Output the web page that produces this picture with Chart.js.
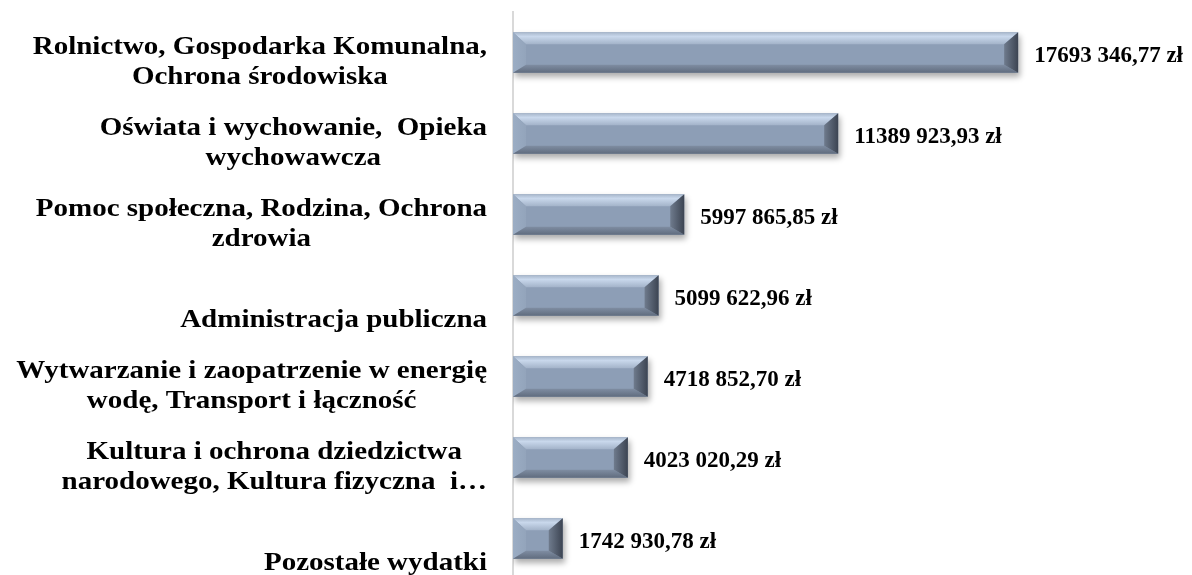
<!DOCTYPE html>
<html>
<head>
<meta charset="utf-8">
<script src="https://cdn.jsdelivr.net/npm/chart.js@4.4.0/dist/chart.umd.min.js"></script>
<style>
html, body { margin: 0; padding: 0; background: #ffffff; overflow: hidden; }
canvas { display: block; }
</style>
</head>
<body>
<canvas id="wydatkiChart" width="1192" height="580"></canvas>
<script>

// categories (multi-line, as in the original labels)
let categories = [
    ["Rolnictwo, Gospodarka Komunalna,", "Ochrona środowiska"],
    ["Oświata i wychowanie,  Opieka", "wychowawcza"],
    ["Pomoc społeczna, Rodzina, Ochrona", "zdrowia"],
    ["", "Administracja publiczna"],
    ["Wytwarzanie i zaopatrzenie w energię", "wodę, Transport i łączność"],
    ["Kultura i ochrona dziedzictwa", "narodowego, Kultura fizyczna  i…"],
    ["", "Pozostałe wydatki"]
];

// expenses in zł
let amounts = [
    17693346.77,
    11389923.93,
    5997865.85,
    5099622.96,
    4718852.70,
    4023020.29,
    1742930.78
];

let axisMin = 0;
let axisMax = 20000000;

let labelFont = "bold 26px 'Liberation Serif', 'Times New Roman', serif";
let labelStretch = 1.115;
let valueFont = "bold 23px 'Liberation Serif', 'Times New Roman', serif";

function formatZl(v){

    let parts = v.toFixed(2).split(".");

    let whole = parts[0];

    return whole.slice(0, -3) + " " + whole.slice(-3) + "," + parts[1] + " zł";
}

// soft drop shadow under the bars
const barShadow = {

    id: "barShadow",

    beforeDatasetDraw(chart){
        let ctx = chart.ctx;
        ctx.save();
        ctx.shadowColor = "rgba(0,0,0,0.33)";
        ctx.shadowBlur = 6;
        ctx.shadowOffsetX = 2;
        ctx.shadowOffsetY = 4;
    },

    afterDatasetDraw(chart){
        chart.ctx.restore();
    }
};

function poly(ctx, pts, fill){
    ctx.beginPath();
    ctx.moveTo(pts[0][0], pts[0][1]);
    for(let i = 1; i < pts.length; i++){
        ctx.lineTo(pts[i][0], pts[i][1]);
    }
    ctx.closePath();
    ctx.fillStyle = fill;
    ctx.fill();
}

// bevelled edges drawn over each bar element
const barBevel = {

    id: "barBevel",

    afterDatasetsDraw(chart){

        let ctx = chart.ctx;
        let meta = chart.getDatasetMeta(0);

        meta.data.forEach(bar => {

            let L = Math.min(bar.base, bar.x);
            let R = Math.max(bar.base, bar.x);
            let T = bar.y - bar.height / 2;
            let B = bar.y + bar.height / 2;

            let bt = 12, bb = 8, bl = 13, br = 14;

            ctx.save();

            let gTop = ctx.createLinearGradient(0, T, 0, T + bt);
            gTop.addColorStop(0, "#a7b6ca");
            gTop.addColorStop(0.35, "#c9d8ec");
            gTop.addColorStop(1, "#a3b3c9");
            poly(ctx, [[L, T], [R, T], [R - br, T + bt], [L + bl, T + bt]], gTop);

            let gLeft = ctx.createLinearGradient(L, 0, L + bl, 0);
            gLeft.addColorStop(0, "#9badc4");
            gLeft.addColorStop(1, "#93a4bb");
            poly(ctx, [[L, T], [L + bl, T + bt], [L + bl, B - bb], [L, B]], gLeft);

            let gBottom = ctx.createLinearGradient(0, B - bb, 0, B);
            gBottom.addColorStop(0, "#7f8da2");
            gBottom.addColorStop(1, "#606c7e");
            poly(ctx, [[L, B], [L + bl, B - bb], [R - br, B - bb], [R, B]], gBottom);

            let gRight = ctx.createLinearGradient(R - br, 0, R, 0);
            gRight.addColorStop(0, "#6f7b8d");
            gRight.addColorStop(1, "#3c4452");
            poly(ctx, [[R, T], [R, B], [R - br, B - bb], [R - br, T + bt]], gRight);

            ctx.restore();

        });

    }
};

// category labels (centred lines, right-aligned block) and value labels
const textLabels = {

    id: "textLabels",

    afterDraw(chart){

        let ctx = chart.ctx;
        let yScale = chart.scales.y;
        let right = chart.chartArea.left - 26;
        let lineH = 30;

        ctx.save();
        ctx.fillStyle = "#000000";
        ctx.textBaseline = "alphabetic";
        ctx.textAlign = "center";
        ctx.font = labelFont;

        categories.forEach((lines, i) => {

            let y = yScale.getPixelForTick(i) + 1;

            let widest = 0;
            lines.forEach(t => {
                widest = Math.max(widest, ctx.measureText(t).width * labelStretch);
            });

            let cx = right - widest / 2;

            lines.forEach((t, j) => {
                ctx.save();
                ctx.translate(cx, y + j * lineH);
                ctx.scale(labelStretch, 1);
                ctx.fillText(t, 0, 0);
                ctx.restore();
            });

        });

        ctx.textAlign = "left";
        ctx.font = valueFont;

        chart.getDatasetMeta(0).data.forEach((bar, i) => {
            ctx.fillText(formatZl(amounts[i]), bar.x + 16, bar.y + 9);
        });

        ctx.restore();
    }
};

let wydatkiChart = new Chart(

    document.getElementById("wydatkiChart"),

    {
        type: "bar",

        data: {

            labels: categories,

            datasets: [{

                data: amounts,

                backgroundColor: "#8d9eb6",

                borderWidth: 0,

                categoryPercentage: 1,

                barPercentage: 0.5

            }]
        },

        options: {

            indexAxis: "y",

            responsive: false,

            animation: false,

            layout: {
                padding: { top: 12, bottom: 1, left: 0, right: 108 }
            },

            plugins: {
                legend: { display: false },
                tooltip: { enabled: false }
            },

            scales: {

                x: {
                    display: false,
                    min: axisMin,
                    max: axisMax
                },

                y: {
                    afterFit(scale){
                        scale.width = 513;
                    },
                    ticks: { display: false },
                    grid: { display: false },
                    border: {
                        display: true,
                        color: "#d9d9d9",
                        width: 2
                    }
                }
            }
        },

        plugins: [barShadow, barBevel, textLabels]
    }

);

</script>
</body>
</html>
